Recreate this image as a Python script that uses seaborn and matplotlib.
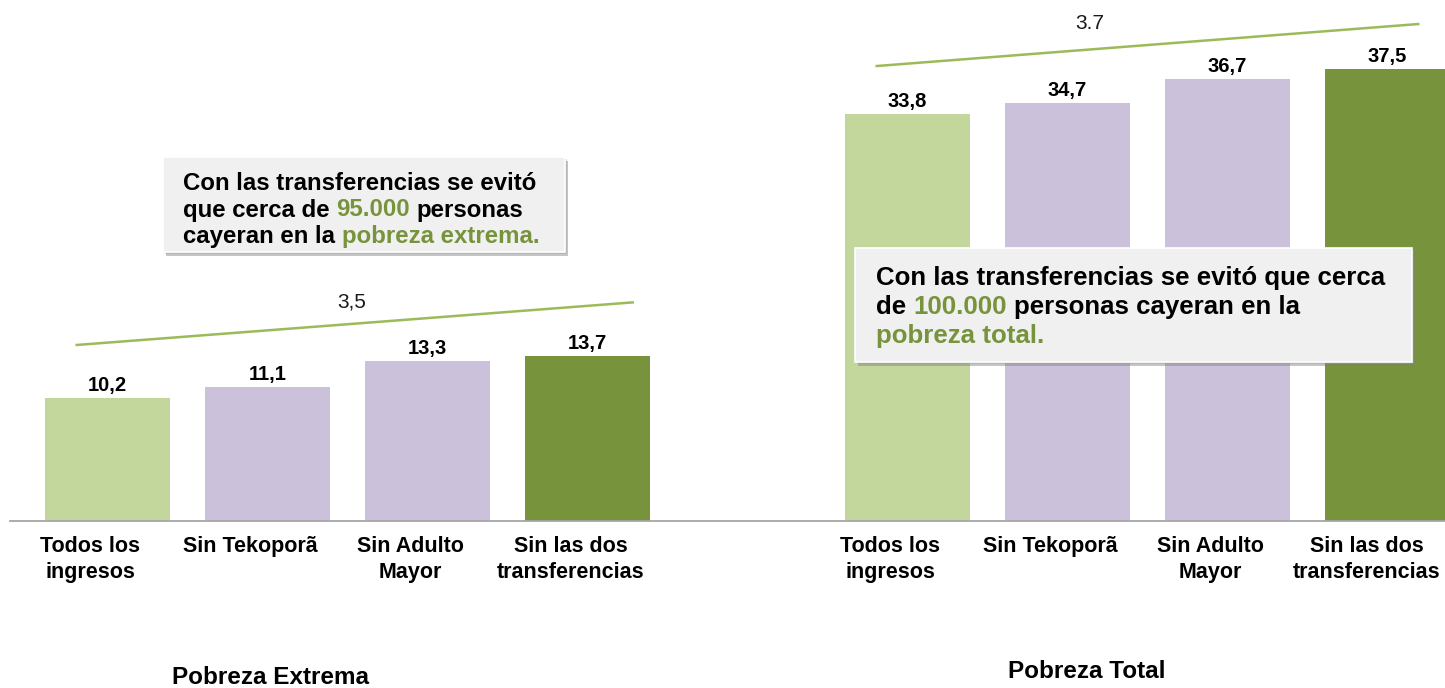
import matplotlib
matplotlib.use("Agg")
import matplotlib.pyplot as plt
import matplotlib.transforms as mtransforms
from matplotlib.patches import Rectangle
import seaborn as sns
import pandas as pd

# ---------------- data ----------------
categories = ["Todos los\ningresos", "Sin Tekoporã", "Sin Adulto\nMayor", "Sin las dos\ntransferencias"]
extrema_values = [10.2, 11.1, 13.3, 13.7]
total_values = [33.8, 34.7, 36.7, 37.5]
value_labels_extrema = ["10,2", "11,1", "13,3", "13,7"]
value_labels_total = ["33,8", "34,7", "36,7", "37,5"]
group_titles = ["Pobreza Extrema", "Pobreza Total"]
gap_labels = ["3,5", "3.7"]
box1_lines = [[("Con las transferencias se evitó", "k")],
              [("que cerca de", "k"), ("95.000", "g"), ("personas", "k")],
              [("cayeran en la", "k"), ("pobreza extrema.", "g")]]
box2_lines = [[("Con las transferencias se evitó que cerca", "k")],
              [("de", "k"), ("100.000", "g"), ("personas cayeran en la", "k")],
              [("pobreza total.", "g")]]

# ---------------- style ----------------
sns.set_theme(style="white")
plt.rcParams["font.family"] = ["Liberation Sans", "DejaVu Sans"]
plt.rcParams["text.color"] = "black"
plt.rcParams["xtick.color"] = "black"

LIGHT_GREEN = "#C3D69B"
LAVENDER = "#CCC1DA"
DARK_GREEN = "#77933C"
LINE_GREEN = "#9BBB59"
TEXT_GREEN = "#77933C"
bar_colors = [LIGHT_GREEN, LAVENDER, LAVENDER, DARK_GREEN]

W, H = 1445, 688
fig = plt.figure(figsize=(W / 100, H / 100), dpi=100)
fig.patch.set_facecolor("white")

ax_left_px, ax_base_px = 10, 521
ax = fig.add_axes([ax_left_px / W, (H - ax_base_px) / H, 1 - ax_left_px / W, ax_base_px / H])

positions = [0, 1, 2, 3, 5, 6, 7, 8]
df = pd.DataFrame({
    "pos": positions,
    "value": extrema_values + total_values,
    "cat": [c + "_e" for c in categories] + [c + "_t" for c in categories],
})
palette = {c: col for c, col in zip(df["cat"], bar_colors * 2)}
sns.barplot(data=df, x="pos", y="value", hue="cat", palette=palette, native_scale=True,
            width=0.78, saturation=1, legend=False, ax=ax, dodge=False, linewidth=0)

unit_px = 160.0
x0 = -(107.5 - ax_left_px) / unit_px
x1 = x0 + (W - ax_left_px) / unit_px
ax.set_xlim(x0, x1)
ax.set_ylim(0, ax_base_px / 12.05)

for s in ["top", "right", "left"]:
    ax.spines[s].set_visible(False)
ax.spines["bottom"].set_color("#A6A6A6")
ax.spines["bottom"].set_linewidth(1.3)
ax.set_yticks([])
ax.set_xlabel("")
ax.set_ylabel("")
ax.set_xticks(positions)
ax.set_xticklabels(categories * 2, fontsize=15.5, fontweight="bold", linespacing=1.3,
                   color="black")
ax.tick_params(axis="x", length=0, pad=11)
# category labels sit slightly left of the bar centres, as in the reference
tick_labels = ax.get_xticklabels()
for i, lab in enumerate(tick_labels):
    shift = -0.21 if i == len(tick_labels) - 1 else -0.17
    lab.set_transform(lab.get_transform() + mtransforms.ScaledTranslation(shift, 0, fig.dpi_scale_trans))

# value labels
for p, v, lab in zip(positions, extrema_values + total_values, value_labels_extrema + value_labels_total):
    ax.annotate(lab, (p, v), xytext=(0, 3), textcoords="offset pixels", ha="center", va="bottom",
                fontsize=14.5, fontweight="bold", color="black")

# gap trend lines
lx = [positions[0] - 0.2, positions[3] + 0.29]
ly = [extrema_values[0] + 4.4, extrema_values[3] + 4.45]
ax.plot(lx, ly, color=LINE_GREEN, lw=1.8, solid_capstyle="butt")
rx = [positions[4] - 0.2, positions[7] + 0.2]
ry = [total_values[0] + 3.95, total_values[3] + 3.75]
ax.plot(rx, ry, color=LINE_GREEN, lw=1.8, solid_capstyle="butt", clip_on=False)
ax.annotate(gap_labels[0], ((lx[0] + lx[1]) / 2 - 0.02, (ly[0] + ly[1]) / 2), xytext=(0, 12),
            textcoords="offset pixels", ha="center", va="bottom", fontsize=15, color="#1A1A1A")
ax.annotate(gap_labels[1], ((rx[0] + rx[1]) / 2 - 0.36, (ry[0] + ry[1]) / 2), xytext=(0, 12),
            textcoords="offset pixels", ha="center", va="bottom", fontsize=15, color="#1A1A1A",
            annotation_clip=False)

# group titles
fig.text(271 / W, 1 - 678 / H, group_titles[0], ha="center", va="center", fontsize=17.5,
         fontweight="bold")
fig.text(1087 / W, 1 - 672 / H, group_titles[1], ha="center", va="center", fontsize=17.5,
         fontweight="bold")

# ---------------- text boxes ----------------
ident = mtransforms.IdentityTransform()


def draw_box(x_left, y_top, x_right, y_bottom):
    w, h = x_right - x_left, y_bottom - y_top
    fig.patches.append(Rectangle((x_left + 3, H - y_bottom - 4), w, h, transform=ident,
                                 facecolor="#7F7F7F", alpha=0.45, edgecolor="none", zorder=5))
    fig.patches.append(Rectangle((x_left + 1.5, H - y_bottom - 2), w, h, transform=ident,
                                 facecolor="#A0A0A0", alpha=0.4, edgecolor="none", zorder=5))
    fig.patches.append(Rectangle((x_left, H - y_bottom), w, h, transform=ident,
                                 facecolor="#F0F0F0", edgecolor="#FFFFFF", linewidth=1.2, zorder=6))


renderer = fig.canvas.get_renderer()


def draw_lines(x_px, first_baseline, spacing, lines, size):
    probe1 = fig.text(0, 0, "x x", fontsize=size, fontweight="bold", transform=ident)
    probe2 = fig.text(0, 0, "xx", fontsize=size, fontweight="bold", transform=ident)
    space = probe1.get_window_extent(renderer).width - probe2.get_window_extent(renderer).width
    probe1.remove()
    probe2.remove()
    for i, segs in enumerate(lines):
        y = H - (first_baseline + i * spacing)
        x = x_px
        for txt, c in segs:
            t = fig.text(x, y, txt, fontsize=size, fontweight="bold", va="baseline", ha="left",
                         color=TEXT_GREEN if c == "g" else "black", transform=ident, zorder=7)
            x = t.get_window_extent(renderer).x1 + space


draw_box(163, 157, 565, 252)
draw_lines(183, 190, 26.5, box1_lines, 17.3)
draw_box(855, 248, 1412, 362)
draw_lines(876, 285, 29, box2_lines, 18.6)

fig.savefig("out.png", dpi=100, facecolor="white")
